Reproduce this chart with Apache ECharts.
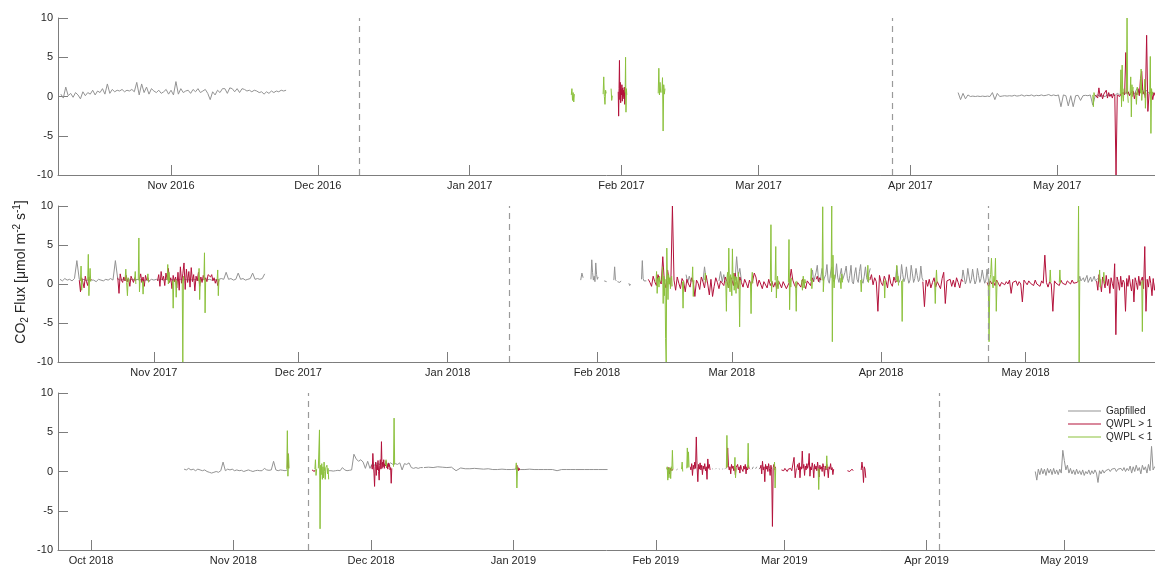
<!DOCTYPE html>
<html>
<head>
<meta charset="utf-8">
<script src="https://cdn.jsdelivr.net/npm/echarts@6/dist/echarts.min.js"></script>
<style>
  html, body { margin: 0; padding: 0; background: #ffffff; }
  #chart { width: 1155px; height: 567px; }
</style>
</head>
<body>
<div id="chart"></div>
<script>
// ---- Data -----------------------------------------------------------------
// Each flux series is a list of runs: [start 'YYYY-MM-DD HH' (UTC), step in hours, values].
// Runs are separate line pieces (no data in between).

const yTicks = [-10, -5, 0, 5, 10];

// Panel 1: winter 2016/17
const p1Range = ['2016-10-08 22', '2017-05-20 23'];
const p1Months = ['2016-11-01', '2016-12-01', '2017-01-01', '2017-02-01', '2017-03-01', '2017-04-01', '2017-05-01'];
const p1Breaks = ['2016-12-09 09', '2017-03-28 09'];
const p1Gray = [
  ['2016-10-09 12', 12, [0.3,-0.2,1.2,0.1,0.4,-0.1,0.5,0.2,-0.3,0.6,0.1,0.5, 0.3,0.8,0.2,0.7,0.5,1.0,0.3,1.6,0.4,0.9,
    0.6,0.8,0.7,0.9,0.6,0.8,0.7,0.9,0.6,1.8, 0.2,1.6,0.5,1.2,0.3,1.0,0.7,0.5,0.8,0.4, 0.6,0.9,0.3,0.8,0.2,1.9,0.3,1.0,0.5,0.7,
    0.8,0.4,0.9,0.6,1.0,0.5,0.7,0.9,0.4,-0.4, 0.6,0.2,0.8,0.5,1.0,1.0,0.4,1.1,1.0,0.6, 1.0,0.5,1.0,0.9,0.7,0.8,0.6,0.8,0.7,0.5,
    0.6,0.3,0.6,0.4,0.7,0.5,0.7,0.6,0.8,0.7,0.8]],
  ['2017-04-10 18', 12, [0.5,-0.4,0.4,-0.3,0.2,0.0,0.05,0.0,0.05,0.0,0.05,0.0,0.05,0.0,0.5,-0.4,0.4,0.0,0.05,0.1,
    0.05,0.1,0.05,0.15,0.05,0.1,0.2,0.05,0.15,0.1,0.2,0.05,0.15,0.1,0.2,0.1,0.15,0.25,0.1,0.2,0.1,0.2,-1.3,0.2,0.1,-1.2,
    0.1,-1.3,0.1,0.15,-0.5,0.1,0.15,0.1,0.2,-1.1,0.1,0.2,0.0,0.1,0.0,0.2,0.1,0.3,0.1,0.4,0.2,0.5,0.3,0.6,0.2,0.8,0.3,1.0,
    0.4,1.2,0.3,0.8,0.4,0.6,0.3,0.4,0.3]]
];
const p1Red = [
  ['2017-01-31 08', 2, [0.6,-2.5,1.0,4.6,-0.4,1.8,-0.8,0.9,0.2,1.5,-0.6,1.1,0.0,0.8,-0.3,1.2,-1.0,0.6]],
  ['2017-05-08 18', 6, [0.2,0.4,-0.2,1.1,0.0,0.4,-0.3,0.3,0.1,0.8,-0.2,0.5,0.0,0.3,-0.2,0.4,0.0,-10,0.2,0.4,0.0,0.3,
    0.1,0.5,0.2,5.6,0.3,0.6,0.1,0.4,0.2,0.7,-0.3,0.5,0.2,1.0,0.1,2.3,3.2,0.3,0.6,-0.2,7.8,-1.9,0.4,0.2,0.6,-0.4,0.5,0.1,0.3]]
];
const p1Green = [
  ['2017-01-21 18', 3, [0.2,1.0,-0.5,0.5,-0.7,0.3]],
  ['2017-01-28 06', 3, [0.3,2.5,0.0,-1.0,0.8,0.4]],
  ['2017-01-29 21', 3, [1.0,-0.5,0.1]],
  ['2017-02-01 18', 2, [0.5,5.0,-2.0,1.0,0.2]],
  ['2017-02-08 12', 3, [0.4,3.6,0.2,1.8,0.5]],
  ['2017-02-09 06', 3, [0.5,2.4,-4.4,1.5,0.3,1.0]],
  ['2017-05-08 06', 3, [0.2,-1.3,0.5,0.1]],
  ['2017-05-13 21', 3, [0.3,3.4,-1.3,4.0,0.2,-0.6,1.0]],
  ['2017-05-15 00', 3, [0.4,1.2,10,0.3,-0.8]],
  ['2017-05-15 21', 3, [0.3,2.5,-2.6,1.5,0.0,1.2]],
  ['2017-05-17 00', 4, [0.5,-1.0,1.2,0.2]],
  ['2017-05-18 00', 3, [0.4,3.5,-0.5,0.8]],
  ['2017-05-18 18', 3, [0.3,2.2,-1.5,0.5]],
  ['2017-05-19 21', 3, [0.3,5.1,-4.7,1.0,0.2,0.6]]
];

// Panel 2: winter 2017/18
const p2Range = ['2017-10-12 02', '2018-05-27 21'];
const p2Months = ['2017-11-01', '2017-12-01', '2018-01-01', '2018-02-01', '2018-03-01', '2018-04-01', '2018-05-01'];
const p2Breaks = ['2018-01-13 21', '2018-04-23 04'];
const p2Gray = [
  ['2017-10-12 12', 12, [0.6,0.4,0.7,0.5,0.6,0.4,0.7,3.0,0.6,0.5, 0.6,0.4,0.6,0.5,0.5,0.3,0.6,0.5,0.4,0.6,
    0.5,0.7,0.5,3.0,0.6,0.5,0.6,0.5,0.6,0.5, 0.6,0.5,0.6,0.5,0.6,0.5,0.5,0.4,0.6,0.5, 0.6,0.5,0.6,0.5,0.6,0.5,0.6,0.5,0.6,0.5,
    0.6,0.5,0.6,0.5,0.6,0.5,0.6,0.5,0.6,0.5, 0.6,0.5,0.6,0.5,0.6,0.5,0.6,0.7,0.6,1.5, 0.6,0.7,0.5,0.6,1.4,0.6,0.7,0.5,0.6,0.7,
    1.4,0.6,0.7,0.6,0.7,1.3]],
  ['2018-01-28 15', 6, [0.5,1.4,0.8]],
  ['2018-01-30 18', 4, [0.6,3.1,1.5,0.5,1.0,0.3,2.7,1.2,0.6,0.9]],
  ['2018-02-02 12', 6, [0.4,0.6,0.3]],
  ['2018-02-04 12', 4, [0.5,2.2,0.6,0.4]],
  ['2018-02-05 06', 6, [0.3,0.5,0.2,0.4]],
  ['2018-02-07 15', 4, [0.1,-0.2,0.0]],
  ['2018-02-10 06', 4, [0.6,3.0,0.7,0.4,0.5,0.2,0.4]],
  ['2018-02-19 12', 8, [1.2,0.2,1.0,0.3]],
  ['2018-02-23 00', 8, [0.3,2.2,0.5]],
  ['2018-02-26 08', 8, [0.4,1.6,0.3,1.2,0.2]],
  ['2018-03-01 16', 8, [0.5,3.5,1.0,2.0,0.4]],
  ['2018-03-17 12', 6, [0.8,1.8,0.3,0.9,1.5,2.4,0.6,0.2,1.0,2.0,0.4,0.3,1.2,2.5,0.5,0.1,1.4,2.2,0.6,0.3,0.9,2.6,0.8,0.2,
    1.2,2.0,0.5,0.4,1.5,2.3,0.7,0.2,1.1,2.4,0.3,0.0,1.3,2.1,0.6,0.2,1.6,2.5,0.4,0.1,1.0,2.2,0.8,0.3,1.4,2.0]],
  ['2018-04-04 00', 6, [0.5,2.3,1.0,0.2,0.6,2.5,1.2,0.3,0.8,2.2,0.9,0.1,0.5,2.4,1.3,0.2,0.7,2.0,1.1,0.3,0.6,2.3,0.8,0.4]],
  ['2018-04-17 18', 6, [0.4,1.8,0.9,0.0,0.5,2.0,1.0,0.1,0.6,1.9,0.8,0.0,0.4,2.0,1.1,0.2,0.7,1.8,0.9,0.1,0.5,1.9,0.6]],
  ['2018-05-12 00', 6, [0.3,1.0,0.4,0.2,0.8,0.3,0.5,1.1,0.2,0.4,0.9,0.3,0.6,1.0,0.4,0.2,0.7]]
];
const p2Red = [
  ['2017-10-16 12', 6, [0.5,-1.0,0.8,0.2,-0.5,1.0,0.3,-0.2,0.9,0.4,0.6]],
  ['2017-10-24 12', 6, [0.8,-1.2,1.3,0.5,0.2,0.9,0.4,1.1,0.3,0.7,-0.3,1.0,0.6,0.2,0.8,0.4]],
  ['2017-10-29 00', 6, [0.6,1.3,0.2,0.9,-0.3,1.1,0.5,0.8,0.3]],
  ['2017-11-01 18', 6, [0.4,1.2,-0.3,1.6,0.5,1.0,-0.2,1.4,0.6,2.0,0.2,0.8,-0.6,1.1,0.3,0.9,-0.5,1.5,-0.8,2.2,0.1,1.3,2.7,
    -0.7,1.9,0.2,1.6,-0.4,2.1,0.3,1.2,-0.9,1.0,0.4,1.5,-0.3,0.9,0.2,1.1,0.5,0.8,0.3,1.2,1.3,0.9,1.2,0.4,0.8,0.1,0.6,-0.2,0.5]],
  ['2018-02-11 16', 8, [0.6, 0.2,-0.3,1.0, 0.3,-0.2,1.2, 0.5,0.0,3.5, 0.2,-0.5,1.8, 0.4,-0.3,10, 0.5,-0.8,0.9,
    0.1,-0.6,0.7, 0.3,-1.0,0.6, 0.0,-0.4,0.8, 0.2,-1.6,0.5, 0.1,-0.7,0.9, 0.3,-0.5,1.1, 0.0,-1.4,0.6, -1.6,-0.3,0.8,
    0.2,-0.6,0.4, 0.5,-0.2,0.9, 0.3,-0.5,1.0, 0.6,-0.2,1.4, 0.4,-0.6,0.9, 0.2,-0.4,0.6, 0.1,-0.5,0.5, -0.2,0.4,1.4,
    0.9,-0.3,0.5, 0.0,-0.6,0.3, 0.1,-0.5,0.6, -0.2,0.3,-0.4, 0.2,-0.6,0.4, 0.0,-0.5,0.3, 0.1,-0.6,-0.4, 0.3,1.9,0.5,
    -0.1,-0.5,0.2, 0.3,-0.4,0.6, 0.0,-0.6,0.4, 0.6,-0.2,0.8, 0.3]],
  ['2018-03-18 12', 6, [0.6,1.0,0.3,0.8,0.5]],
  ['2018-03-29 16', 8, [0.5, 1.2,-0.1,0.8, 0.3,-3.5,1.1, 0.2,-0.2,1.0, 0.4,-0.5,1.2, 0.1,-0.3,0.9, 0.2,0.5]],
  ['2018-04-09 16', 8, [0.3, -2.9,0.5,-0.3, 0.6,-0.5,0.2, 0.8,-0.4,0.3, 0.1,-0.6,0.7, 1.5,-2.5,0.4, 0.2,0.6,-0.3,
    0.5,-0.4,0.8, 0.2,-0.5,0.6, 0.3]],
  ['2018-04-23 00', 8, [0.2,-0.3,0.4, 0.0,0.3,-0.2, 0.5,0.1,-0.3, 0.2,0.4,-0.1, 0.3,0.0,0.5, -1.2,0.2,0.1, 0.4,-0.2,0.3,
    0.0,-2.3,0.5, 0.2,-0.1,0.4, 0.1,0.3,-0.2, 0.5,0.0,0.2, -0.3,0.4,0.1, 3.7,0.2,-0.4, 0.3,0.0,-3.5, 0.4,0.1,0.3,
    -0.2,0.5,0.1, 0.3,-0.1,0.4, 0.2,0.0,0.5, 0.1,0.3,0.2, 0.4]],
  ['2018-05-15 18', 6, [0.4,-0.8,1.2,0.2,-1.0,0.9,0.3,-0.5,1.1,-0.2, 0.6,-1.2,0.8,0.1,-0.6,2.6,-6.5,0.9,0.3,-0.8,
    1.0,-0.4,0.5,0.2,-3.5,0.7,-0.3,1.1,0.0,-0.9, 0.6,-2.3,0.8,0.2,-0.7,1.0,-0.2,0.5,0.9,-0.6, 4.8,-3.5,0.6,-0.4,1.0,0.1,-1.5,0.7,-0.8,0.3]]
];
const p2Green = [
  ['2017-10-16 18', 3, [0.4,2.3,-0.8,0.5]],
  ['2017-10-18 06', 3, [0.5,3.8,-1.5,0.6,2.0,0.3]],
  ['2017-10-26 00', 4, [0.5,1.9,0.2,-1.5,0.8,0.3]],
  ['2017-10-28 00', 3, [0.6,1.6,0.0]],
  ['2017-10-28 18', 3, [0.5,5.9,-1.0,0.6]],
  ['2017-10-29 15', 3, [0.4,-1.3,0.3]],
  ['2017-10-30 15', 3, [0.5,1.3,0.2]],
  ['2017-11-03 18', 3, [0.5,2.5,0.0,1.5,0.3]],
  ['2017-11-04 21', 3, [0.4,-3.1,0.5]],
  ['2017-11-05 12', 3, [0.6,-1.7,0.4]],
  ['2017-11-06 21', 3, [0.5,-10,1.0,0.4]],
  ['2017-11-10 06', 3, [0.4,2.0,-2.0,0.6]],
  ['2017-11-11 09', 3, [0.5,4.0,-3.7,0.6]],
  ['2017-11-14 03', 3, [0.5,1.8,-1.5,0.6]],
  ['2018-02-13 06', 3, [0.3,1.6,-1.2,0.5,0.8,-0.4,1.0,0.2]],
  ['2018-02-14 12', 3, [0.4,2.2,-2.5,1.0,-1.5,0.6,-7.0,-10,4.6,0.5,-2.0,1.2,0.0,0.8,-0.6,0.4,1.0,-0.3]],
  ['2018-02-18 18', 3, [0.3,-3.1,0.4]],
  ['2018-02-20 18', 3, [0.4,2.2,-1.6,0.5]],
  ['2018-02-23 09', 3, [0.5,1.4,0.2]],
  ['2018-02-27 18', 3, [0.3,-3.5,0.8,1.5,-0.5,4.6,0.2,-1.0,1.2,0.5,-1.5,4.5,0.6,1.4,-0.8,1.0,0.3,-1.2,0.9,0.2,-0.5,1.5,0.0,-5.5,0.5]],
  ['2018-03-04 21', 3, [0.2,-3.8,0.5,1.5,0.1]],
  ['2018-03-09 00', 3, [0.3,7.6,-1.0,0.4]],
  ['2018-03-10 00', 3, [0.5,4.8,-1.8,0.3,1.0,-0.6,0.4]],
  ['2018-03-12 18', 3, [0.2,5.7,-3.3,0.6,-0.4,0.8]],
  ['2018-03-14 06', 3, [0.3,-3.5,0.4]],
  ['2018-03-15 12', 4, [0.5,-0.8,1.0,-0.5,0.6,0.1]],
  ['2018-03-17 09', 3, [0.4,2.0,-0.6,0.5]],
  ['2018-03-19 18', 3, [0.5,9.9,-1.0,0.6]],
  ['2018-03-21 15', 3, [0.8,10,-7.4,3.7,0.6,-0.5,1.2]],
  ['2018-03-23 12', 4, [0.8,-0.6,1.3,0.2]],
  ['2018-03-27 18', 3, [0.5,-1.0,0.6]],
  ['2018-03-29 03', 3, [0.6,2.4,0.2,0.9]],
  ['2018-04-01 15', 3, [0.4,-1.8,0.6]],
  ['2018-04-04 03', 3, [0.5,2.4,0.3,1.0,-0.2]],
  ['2018-04-05 06', 3, [0.4,-4.8,0.6]],
  ['2018-04-12 03', 3, [0.2,-2.5,0.3,1.8,0.2]],
  ['2018-04-23 06', 4, [0.3,-7.4,0.5,1.2,3.3,0.2,-0.5,1.0,0.3,3.3,-3.5,0.4]],
  ['2018-05-06 00', 3, [0.3,1.8,0.2]],
  ['2018-05-08 00', 3, [0.2,1.8,0.1]],
  ['2018-05-11 21', 3, [0.3,10,-10,0.5]],
  ['2018-05-16 06', 3, [0.3,1.8,-0.4,0.6]],
  ['2018-05-17 03', 3, [0.4,1.5,0.0]],
  ['2018-05-25 03', 3, [0.3,-6.1,0.5]]
];

// Panel 3: winter 2018/19
const p3Range = ['2018-09-23 19', '2019-05-20 18'];
const p3Months = ['2018-10-01', '2018-11-01', '2018-12-01', '2019-01-01', '2019-02-01', '2019-03-01', '2019-04-01', '2019-05-01'];
const p3Breaks = ['2018-11-17 06', '2019-04-03 19'];
const p3Gray = [
  ['2018-10-21 06', 12, [0.3,0.2,0.4,0.2,0.3,0.1,0.3,0.2,0.1,0.2, 0.0,-0.1,-0.2,-0.1,0.0,-0.1,0.1,1.2,0.1,0.3,
    0.2,0.3,0.1,0.2,0.1,0.15,0.0,0.1,0.2,0.1, 0.0,0.1,0.15,0.1,0.1,0.4,0.2,0.15,0.2,1.3, 0.2,0.1,0.2,0.15,0.1,0.2]],
  ['2018-11-21 18', 12, [0.1,0.1,0.05,0.1,0.15,0.1,0.5,0.2,0.1,0.15,0.2,2.2,1.6,1.3,1.5,1.2,0.4,1.3,0.4,1.0,0.8,1.1,
    0.9,1.0,0.8,1.0,0.9,1.1,0.9,1.0,0.9,1.1,0.2,1.0,0.9,1.1,0.5,0.4,0.5,0.4,0.5,0.5]],
  ['2018-12-12 12', 24, [0.5,0.55,0.5,0.6,0.55,0.5,0.55,0.1,0.45,0.35,0.35,0.4,0.35,0.3,0.35,0.25,0.25,0.3,0.25,0.25,
    0.3,0.25,0.25,0.3,0.25,0.25,0.25,0.25,0.25,0.1,0.25,0.25,0.25,0.25,0.25,0.25,0.25,0.25,0.25,0.25,0.25]],
  ['2019-02-05 12', 6, [0.2,0.3]],
  ['2019-02-13 06', 4, [0.3,0.35]],
  ['2019-02-14 00', 4, [0.3,0.4]],
  ['2019-02-14 18', 4, [0.35,0.3]],
  ['2019-02-15 12', 4, [0.3,0.35]],
  ['2019-02-16 00', 4, [0.3,0.4]],
  ['2019-02-22 00', 6, [0.3,0.6]],
  ['2019-02-22 18', 6, [0.35,0.6]],
  ['2019-02-23 12', 6, [0.3,0.5]],
  ['2019-04-24 16', 8, [0.0, -1.1,0.3,-0.4, 0.4,-0.3,0.3, -0.5,0.4,-0.2, 0.3,-0.4,0.4, -0.3,0.2,-0.4, 0.3,-0.2,2.7,
    1.4,0.2,0.8, -0.2,0.4,-0.3, 0.2,-0.4,0.3, -0.3,0.1,-0.4, 0.2,-0.5,0.0, -0.3,0.2,-0.4, 0.1,-0.3,0.2, -0.2,-1.4,0.1,
    -0.3,0.2,-0.2, 0.1,-0.1,0.3, 0.0,0.3,0.1, 0.4,0.0,0.3, 0.2,0.4,0.1, 0.5,0.0,0.4, 0.1,0.7,-0.2, 0.6,0.0,0.8,
    0.1,0.5,-0.3, 0.8,0.2,0.6, -0.2,0.9,0.1, 3.2,0.2,0.6, 0.3]]
];
const p3Red = [
  ['2018-11-12 18', 3, [0.5,2.3,0.4]],
  ['2018-11-18 03', 4, [0.2,0.1,0.3,0.0,0.2]],
  ['2018-12-01 03', 3, [0.8,0.3,2.3,0.9,-0.2,-1.9,0.6,1.2,-0.5,0.9,0.2,1.4,0.0,-1.1,0.8,1.5,0.3,3.8,0.4,1.2,0.6,1.5,
    0.4,1.0,0.7,1.3,0.5,0.9,0.3,1.1,0.6,0.9,0.2,0.5,-1.5,0.4]],
  ['2019-01-01 15', 3, [0.3,0.8,0.2,0.5,0.1,0.4,0.2]],
  ['2019-02-03 12', 6, [0.2,0.5,-0.3,0.4,0.1,0.3]],
  ['2019-02-08 12', 4, [0.6,0.2,1.0,-0.5,0.8,0.3,1.2,0.4,4.4,0.6,-1.3,0.9,0.3,1.1,0.2,0.8,-0.4,0.7,0.3,1.0,0.1,0.6,
    -1.0,1.6,0.4,0.9,0.2]],
  ['2019-02-16 12', 4, [0.5,3.0,0.8,0.2,0.6,-0.3,0.9,0.4,0.7,0.1,0.8,-0.4,0.5,0.3,0.9,0.2,0.6,-0.2,0.8,0.4,0.5,0.0,
    0.7,0.3,0.9,-0.3,0.6,0.2,0.8,0.4,0.3]],
  ['2019-02-23 18', 4, [0.4,0.8,-0.3,1.3,0.2,0.6,-1.3,0.9,0.3,0.7,0.0,1.0,0.4,-0.5,0.8,0.3,-7.0,0.5,0.9,0.2,0.6]],
  ['2019-02-28 09', 6, [0.2,0.3,0.1,0.4,0.2,0.0,0.3,0.2,0.4,0.1,0.3,1.8,-0.8,0.4]],
  ['2019-03-03 18', 4, [0.5,0.9,0.2,1.1,-0.8,0.6,0.3,2.6,0.4,0.9,-0.5,0.7,0.2,1.0,0.4,0.8,2.3,-0.6,0.6,0.2,1.1,0.5,
    -0.8,0.9,0.3,0.7,0.1,1.2,0.4,-0.7,0.8,0.3,0.6,0.0,1.0,0.5,-0.6,0.7,0.2,0.9,0.4,-0.8,0.6,0.3,1.0,0.2,0.5,-0.4,0.3]],
  ['2019-03-14 18', 6, [0.1,0.3,0.0,0.2,0.3,0.1]],
  ['2019-03-17 18', 4, [0.2,1.2,0.4,-1.4,0.6,0.3,-0.8]]
];
const p3Green = [
  ['2018-11-12 15', 3, [0.3,5.2,-0.6,2.2,0.4]],
  ['2018-11-18 18', 3, [0.3,1.5,-0.5,0.3]],
  ['2018-11-19 12', 3, [0.4,0.2,5.3,-7.3,0.8,-0.4,1.0,-1.0,0.6,-0.8,1.2,0.0,-1.0,0.5,0.3,0.8,-0.3,0.4,-1.0]],
  ['2018-12-04 03', 3, [0.8,1.5,0.6]],
  ['2018-12-05 21', 3, [0.6,6.8,0.9]],
  ['2019-01-01 12', 3, [0.3,1.1,-2.1,0.4,0.6]],
  ['2019-02-03 09', 3, [0.3,0.6,-1.1,0.4,-0.8,0.5,0.2,-0.9,0.6,0.1,2.7,0.3]],
  ['2019-02-06 15', 3, [0.3,1.2,0.0]],
  ['2019-02-07 18', 3, [0.4,3.0,0.5,2.5,0.6]],
  ['2019-02-16 09', 3, [0.4,4.6,0.6]],
  ['2019-02-18 03', 3, [0.3,1.8,-0.8,0.4]],
  ['2019-02-21 00', 3, [0.4,3.6,0.5]],
  ['2019-02-26 18', 3, [0.3,1.2,-2.1,0.4]],
  ['2019-03-08 09', 3, [0.4,-2.3,0.3]],
  ['2019-03-10 03', 3, [0.3,2.0,0.5]]
];

const seriesNames = ['Gapfilled', 'QWPL > 1', 'QWPL < 1'];

// ---- Helpers --------------------------------------------------------------
const MONTHS = ['Jan','Feb','Mar','Apr','May','Jun','Jul','Aug','Sep','Oct','Nov','Dec'];
function ts(s) {
  const [d, h] = s.split(' ');
  const [y, m, day] = d.split('-').map(Number);
  return Date.UTC(y, m - 1, day, h ? Number(h) : 0);
}
function toPoints(runs) {
  const out = [];
  runs.forEach(([start, stepH, vals], i) => {
    const t0 = ts(start);
    if (i > 0) out.push([t0 - 60000, '-']);   // break the line between runs
    vals.forEach((v, k) => out.push([t0 + k * stepH * 3600000, v]));
  });
  return out;
}
function monthLabel(v) {
  const d = new Date(Number(v));
  return MONTHS[d.getUTCMonth()] + ' ' + d.getUTCFullYear();
}

// ---- Layout & style -------------------------------------------------------
const FONT = "'Liberation Sans', Arial, Helvetica, sans-serif";
const AXIS_COLOR = '#7d7d7d';
const TEXT_COLOR = '#262626';
const LINE_COLORS = ['#939393', '#b3123b', '#8cc13d'];
const gridBoxes = [
  { top: 18, height: 157 },
  { top: 206, height: 156 },
  { top: 393, height: 157 }
];

const panels = [
  { range: p1Range, months: p1Months, breaks: p1Breaks, runs: [p1Gray, p1Red, p1Green] },
  { range: p2Range, months: p2Months, breaks: p2Breaks, runs: [p2Gray, p2Red, p2Green] },
  { range: p3Range, months: p3Months, breaks: p3Breaks, runs: [p3Gray, p3Red, p3Green] }
];

const series = [];
panels.forEach((p, i) => {
  p.runs.forEach((runs, j) => {
    const s = {
      type: 'line',
      name: seriesNames[j],
      xAxisIndex: i,
      yAxisIndex: i,
      data: toPoints(runs),
      symbol: 'none',
      showSymbol: false,
      connectNulls: false,
      clip: true,
      silent: true,
      animation: false,
      z: 2 + j,
      lineStyle: { width: 1, color: LINE_COLORS[j] },
      itemStyle: { color: LINE_COLORS[j] }
    };
    if (j === 0) {
      s.markLine = {
        silent: true,
        animation: false,
        symbol: ['none', 'none'],
        label: { show: false },
        lineStyle: { color: '#9a9a9a', width: 1.2, type: [6, 5] },
        data: p.breaks.map(b => ({ xAxis: ts(b) }))
      };
    }
    series.push(s);
  });
});

const option = {
  animation: false,
  backgroundColor: '#ffffff',
  textStyle: { fontFamily: FONT },
  grid: gridBoxes.map(b => ({ left: 58, width: 1097, top: b.top, height: b.height, containLabel: false })),
  xAxis: panels.map((p, i) => {
    const monthTs = p.months.map(ts);
    return {
      type: 'value',
      gridIndex: i,
      min: ts(p.range[0]),
      max: ts(p.range[1]),
      axisLine: { show: true, onZero: false, lineStyle: { color: AXIS_COLOR, width: 1 } },
      axisTick: { show: true, inside: true, length: 10, customValues: monthTs, lineStyle: { color: AXIS_COLOR } },
      axisLabel: {
        customValues: monthTs,
        formatter: monthLabel,
        fontSize: 11, color: TEXT_COLOR, fontFamily: FONT, margin: 5,
        hideOverlap: false
      },
      splitLine: { show: false },
      minorTick: { show: false }
    };
  }),
  yAxis: panels.map((p, i) => ({
    type: 'value',
    gridIndex: i,
    min: yTicks[0],
    max: yTicks[yTicks.length - 1],
    interval: yTicks[1] - yTicks[0],
    axisLine: { show: true, lineStyle: { color: AXIS_COLOR, width: 1 } },
    axisTick: { show: true, inside: true, length: 10, lineStyle: { color: AXIS_COLOR } },
    axisLabel: { fontSize: 11, color: TEXT_COLOR, fontFamily: FONT, margin: 5 },
    splitLine: { show: false }
  })),
  legend: {
    data: seriesNames,
    orient: 'vertical',
    left: 1068,
    top: 406,
    padding: 0,
    icon: 'rect',
    itemWidth: 33,
    itemHeight: 1,
    itemGap: 3,
    selectedMode: false,
    textStyle: { fontSize: 10, color: TEXT_COLOR, fontFamily: FONT, overflow: 'none' }
  },
  graphic: [{
    type: 'text',
    x: 21,
    y: 272,
    rotation: Math.PI / 2,
    silent: true,
    style: {
      text: '{n|CO}{sub|2}{n| Flux [\u03bcmol m}{sup|-2}{n| s}{sup|-1}{n|]}',
      align: 'center',
      verticalAlign: 'middle',
      fontFamily: FONT,
      fontSize: 14,
      fill: TEXT_COLOR,
      rich: {
        n: { fontSize: 14, lineHeight: 18, fontFamily: FONT, fill: TEXT_COLOR },
        sub: { fontSize: 10, verticalAlign: 'bottom', fontFamily: FONT, fill: TEXT_COLOR },
        sup: { fontSize: 10, verticalAlign: 'top', fontFamily: FONT, fill: TEXT_COLOR }
      }
    }
  }],
  series
};

const chart = echarts.init(document.getElementById('chart'), null, { renderer: 'canvas' });
chart.setOption(option);
</script>
</body>
</html>
